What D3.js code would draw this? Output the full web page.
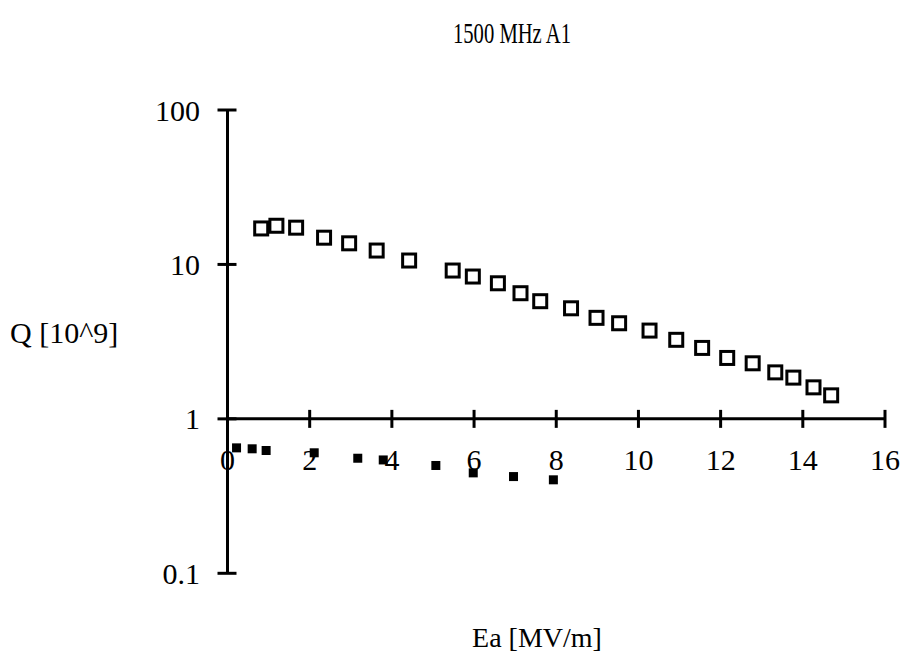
<!DOCTYPE html>
<html><head><meta charset="utf-8">
<script src="https://cdn.jsdelivr.net/npm/d3@7"></script>
<style>body{margin:0;background:#fff}svg{display:block}text{font-family:"Liberation Serif","Times New Roman",serif;fill:#000}</style>
</head><body>
<svg id="c" width="906" height="661"></svg>
<script>
const title = "1500 MHz A1";
const xLabel = "Ea [MV/m]";
const yLabel = "Q [10^9]";
const xTicks = [0,2,4,6,8,10,12,14,16];
const yTicks = [0.1,1,10,100];
const yTickLabels = ["0.1","1","10","100"];
const openE = [0.82,1.19,1.67,2.35,2.96,3.63,4.42,5.48,5.97,6.58,7.13,7.61,8.36,8.98,9.53,10.27,10.92,11.55,12.16,12.78,13.33,13.77,14.26,14.69];
const openQ = [17.1,17.8,17.3,14.9,13.7,12.3,10.6,9.13,8.35,7.55,6.51,5.78,5.20,4.51,4.16,3.73,3.25,2.88,2.48,2.29,2.00,1.85,1.60,1.42];
const filledE = [0.22,0.60,0.94,2.11,3.17,3.79,5.07,5.98,6.96,7.93];
const filledQ = [0.649,0.640,0.624,0.603,0.556,0.542,0.499,0.447,0.423,0.403];

const svg = d3.select("#c");
const x = d3.scaleLinear().domain([0,16]).range([227.5,885]);
const y = d3.scaleLog().domain([0.1,100]).range([573.3,110]);
const fs = 30;

svg.append("text").attr("x",512).attr("y",43).attr("text-anchor","middle").attr("font-size",30)
  .attr("textLength",118).attr("lengthAdjust","spacingAndGlyphs").text(title);

// y axis
const yAxis = svg.append("g");
yAxis.append("line").attr("x1",x(0)).attr("x2",x(0)).attr("y1",y(100)).attr("y2",y(0.1)).attr("stroke","#000").attr("stroke-width",3);
yAxis.selectAll("line.t").data(yTicks).join("line").attr("class","t")
  .attr("x1",x(0)-10).attr("x2",x(0)+9).attr("y1",d=>y(d)).attr("y2",d=>y(d)).attr("stroke","#000").attr("stroke-width",3);
yAxis.selectAll("text").data(yTicks).join("text")
  .attr("x",200).attr("y",d=>y(d)).attr("dy","0.35em").attr("text-anchor","end").attr("font-size",fs)
  .text((d,i)=>yTickLabels[i]);

// x axis at Q=1
const x0 = y(1);
const xAxis = svg.append("g");
xAxis.append("line").attr("x1",x(0)).attr("x2",x(16)).attr("y1",x0).attr("y2",x0).attr("stroke","#000").attr("stroke-width",3);
xAxis.selectAll("line.t").data(xTicks.filter(d=>d>0)).join("line").attr("class","t")
  .attr("x1",d=>x(d)).attr("x2",d=>x(d)).attr("y1",x0-9).attr("y2",x0+9).attr("stroke","#000").attr("stroke-width",3);
xAxis.selectAll("text").data(xTicks).join("text")
  .attr("x",d=>x(d)).attr("y",x0+51).attr("text-anchor","middle").attr("font-size",fs).text(d=>d);

svg.append("text").attr("x",537).attr("y",647).attr("text-anchor","middle").attr("font-size",28).text(xLabel);
svg.append("text").attr("x",10).attr("y",343).attr("font-size",fs).text(yLabel);

// open squares
const so = 13;
svg.append("g").selectAll("rect").data(openE.map((e,i)=>[e,openQ[i]])).join("rect")
  .attr("x",d=>x(d[0])-so/2).attr("y",d=>y(d[1])-so/2).attr("width",so).attr("height",so)
  .attr("fill","#fff").attr("stroke","#000").attr("stroke-width",3);
// filled squares
const sf = 9;
svg.append("g").selectAll("rect").data(filledE.map((e,i)=>[e,filledQ[i]])).join("rect")
  .attr("x",d=>x(d[0])-sf/2).attr("y",d=>y(d[1])-sf/2).attr("width",sf).attr("height",sf)
  .attr("fill","#000");
</script>
</body></html>
